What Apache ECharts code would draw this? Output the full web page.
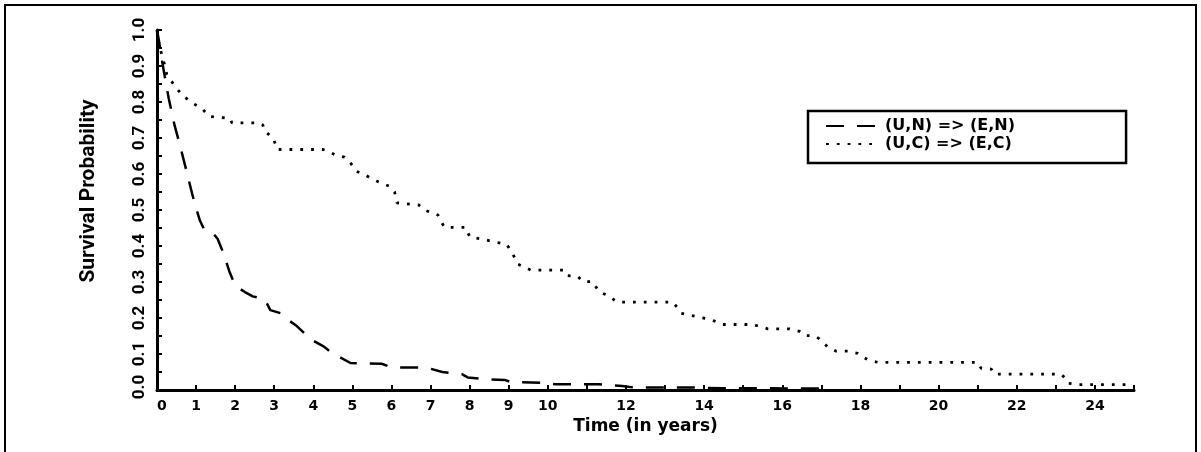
<!DOCTYPE html>
<html>
<head>
<meta charset="utf-8">
<script src="https://cdn.jsdelivr.net/npm/echarts@6/dist/echarts.min.js"></script>
<style>
  html, body { margin: 0; padding: 0; background: #fff; }
  #chart { width: 1201px; height: 452px; }
</style>
</head>
<body>
<div id="chart"></div>
<script>
// Kaplan-Meier style survival estimates for two transitions
const seriesNames = ['(U,N) => (E,N)', '(U,C) => (E,C)'];

// (U,N) => (E,N)
const timeUN = [0, 0.05, 0.12, 0.2, 0.3, 0.45, 0.6, 0.75, 0.9, 1.0, 1.1, 1.2, 1.4, 1.55, 1.7,
  1.85, 2.0, 2.25, 2.45, 2.75, 2.9, 3.2, 3.35, 3.55, 3.95, 4.25, 4.45, 4.7, 4.95, 5.75,
  6.0, 6.9, 7.3, 7.8, 7.95, 8.4, 8.9, 9.05, 9.9, 10.2, 11.3, 11.9, 12.2, 13.6, 14.5, 17.0];
const survUN = [1.0, 0.97, 0.92, 0.87, 0.81, 0.735, 0.675, 0.61, 0.545, 0.505, 0.47, 0.448, 0.44, 0.42, 0.38,
  0.33, 0.29, 0.272, 0.26, 0.253, 0.222, 0.212, 0.195, 0.18, 0.14, 0.122, 0.105, 0.09, 0.075, 0.073,
  0.063, 0.062, 0.05, 0.044, 0.035, 0.03, 0.028, 0.022, 0.02, 0.016, 0.016, 0.011, 0.007, 0.007, 0.005, 0.004];

// (U,C) => (E,C)
const timeUC = [0, 0.05, 0.19, 0.25, 0.45, 0.66, 0.96, 1.17, 1.33, 1.86, 1.92, 2.6, 2.71, 2.75, 2.98,
  3.07, 4.25, 4.41, 4.59, 4.8, 4.93, 5.01, 5.11, 5.28, 5.48, 5.69, 5.95, 6.08, 6.14, 6.7,
  6.84, 7.02, 7.19, 7.27, 7.36, 7.9, 7.95, 8.01, 8.3, 8.6, 8.94, 9.06, 9.15, 9.23, 9.57,
  10.43, 10.51, 10.77, 10.9, 11.15, 11.24, 11.32, 11.54, 11.66, 11.79, 13.2, 13.33, 13.41, 13.67, 13.88,
  14.09, 14.31, 14.48, 15.25, 15.46, 15.63, 16.18, 16.44, 16.57, 16.82, 16.95, 17.04, 17.17, 17.38, 17.68,
  17.93, 18.06, 18.23, 18.44, 21.0, 21.09, 21.35, 21.43, 23.14, 23.22, 23.3, 23.6, 24.95];
const survUC = [1.0, 0.96, 0.905, 0.877, 0.845, 0.817, 0.794, 0.78, 0.76, 0.755, 0.742, 0.742, 0.736, 0.72, 0.699,
  0.668, 0.668, 0.662, 0.651, 0.647, 0.634, 0.622, 0.607, 0.6, 0.588, 0.577, 0.566, 0.55, 0.52, 0.514,
  0.5, 0.493, 0.486, 0.467, 0.452, 0.452, 0.438, 0.424, 0.42, 0.412, 0.405, 0.387, 0.368, 0.35, 0.333,
  0.333, 0.318, 0.315, 0.301, 0.301, 0.285, 0.273, 0.262, 0.253, 0.244, 0.244, 0.227, 0.213, 0.207, 0.202,
  0.198, 0.19, 0.182, 0.182, 0.175, 0.17, 0.17, 0.163, 0.151, 0.151, 0.142, 0.133, 0.119, 0.108, 0.108,
  0.102, 0.092, 0.082, 0.077, 0.077, 0.06, 0.058, 0.044, 0.044, 0.035, 0.019, 0.015, 0.015];

const xTitle = 'Time (in years)';
const yTitle = 'Survival Probability';

const zip = (xs, ys) => xs.map((x, i) => [x, ys[i]]);

const wideFont = "'DejaVu Sans', Verdana, sans-serif";
const narrowFont = "Roboto, 'Liberation Sans', sans-serif";

const chart = echarts.init(document.getElementById('chart'), null, { renderer: 'canvas' });

chart.setOption({
  backgroundColor: '#ffffff',
  animation: false,
  graphic: [{
    type: 'rect',
    shape: { x: 5, y: 5, width: 1191, height: 470 },
    style: { fill: 'none', stroke: '#000', lineWidth: 2 },
    silent: true
  }],
  grid: { left: 157, right: 67, top: 30, bottom: 62 },
  legend: {
    orient: 'vertical',
    left: 808,
    top: 111,
    padding: [7, 111, 11, 17],
    itemGap: 2,
    itemWidth: 54,
    itemHeight: 14,
    borderColor: '#000',
    borderWidth: 2.5,
    backgroundColor: '#fff',
    itemStyle: { opacity: 0, borderWidth: 0 },
    textStyle: { fontFamily: wideFont, fontWeight: 'bold', fontSize: 16, color: '#000' },
    data: seriesNames
  },
  xAxis: {
    type: 'value',
    min: 0,
    max: 25,
    interval: 1,
    name: xTitle,
    nameLocation: 'middle',
    nameGap: 25,
    nameTextStyle: { fontFamily: wideFont, fontWeight: 'bold', fontSize: 17, color: '#000' },
    axisLine: { show: true, lineStyle: { color: '#000', width: 3 } },
    axisTick: { show: true, inside: true, length: 5, lineStyle: { color: '#000', width: 2 } },
    splitLine: { show: false },
    axisLabel: {
      color: '#000',
      fontFamily: wideFont,
      fontWeight: 'bold',
      fontSize: 14,
      margin: 9,
      alignMinLabel: 'left',
      formatter: v => (v <= 10 || (v % 2 === 0 && v < 25)) ? String(v) : ''
    }
  },
  yAxis: {
    type: 'value',
    min: 0,
    max: 1,
    interval: 0.05,
    name: yTitle,
    nameLocation: 'middle',
    nameGap: 58,
    nameTextStyle: {
      fontFamily: narrowFont, fontWeight: 'bold', fontSize: 21, color: '#000',
      padding: [0, 0, 0, 38]
    },
    axisLine: { show: true, lineStyle: { color: '#000', width: 3 } },
    axisTick: { show: true, inside: true, length: 5, lineStyle: { color: '#000', width: 2 } },
    splitLine: { show: false },
    axisLabel: {
      color: '#000',
      fontFamily: narrowFont,
      fontWeight: 'bold',
      fontSize: 17,
      rotate: 90,
      margin: 9,
      // the 0.0 label is nudged up slightly
      formatter: v => {
        const k = Math.round(v * 20);
        if (k % 2 !== 0) return '';
        return k === 0 ? '{zero|' + v.toFixed(1) + '}' : v.toFixed(1);
      },
      rich: {
        zero: { fontFamily: narrowFont, fontWeight: 'bold', fontSize: 17, color: '#000', padding: [0, 0, 0, 6] }
      }
    }
  },
  series: [
    {
      name: seriesNames[0],
      type: 'line',
      data: zip(timeUN, survUN),
      symbol: 'none',
      lineStyle: { color: '#000', width: 2.5, type: [18, 13] },
      itemStyle: { color: '#000' }
    },
    {
      name: seriesNames[1],
      type: 'line',
      data: zip(timeUC, survUC),
      symbol: 'none',
      lineStyle: { color: '#000', width: 2.8, type: [2.8, 8] },
      itemStyle: { color: '#000' }
    }
  ]
});
</script>
</body>
</html>
